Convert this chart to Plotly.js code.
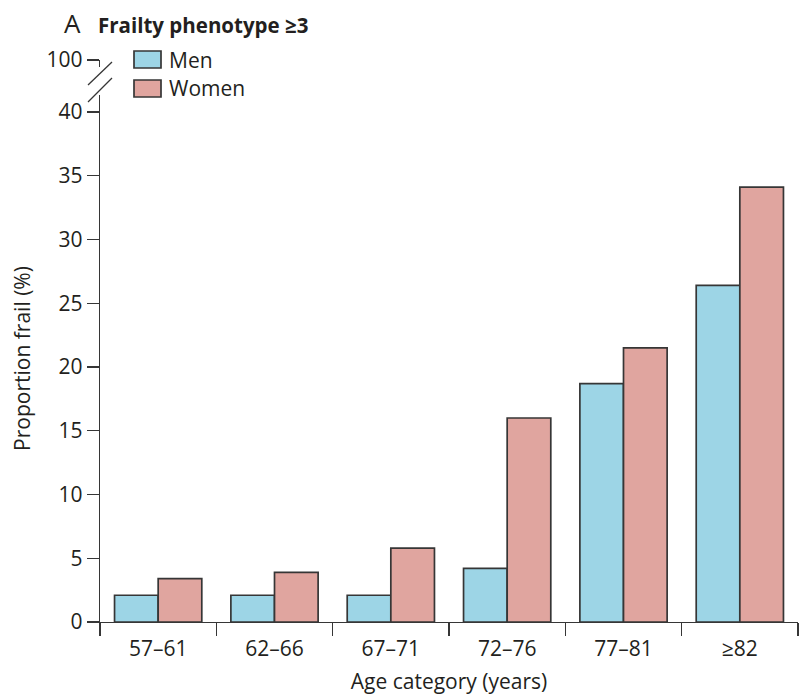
<!DOCTYPE html>
<html>
<head>
<meta charset="utf-8">
<script src="https://cdn.plot.ly/plotly-3.0.1.min.js"></script>
<style>html,body{margin:0;padding:0;background:#fff;}#chart{width:800px;height:699px;}</style>
</head>
<body>
<div id="chart"></div>
<script>
const categories = ["57–61", "62–66", "67–71", "72–76", "77–81", "≥82"];
const menValues = [2.1, 2.1, 2.1, 4.2, 18.7, 26.4];
const womenValues = [3.4, 3.9, 5.8, 16.0, 21.5, 34.1];
const seriesNames = ["Men", "Women"];
const seriesColors = ["#9dd5e6", "#e0a59f"];
const yTickVals = [0, 5, 10, 15, 20, 25, 30, 35, 40];
const breakTickVals = [100];

const W = 800, H = 699;
const mL = 100, mR = 2, mT = 60, mB = 77;
const pw = W - mL - mR, ph = H - mT - mB;
const px2x = p => (p - mL) / pw;
const px2y = p => (H - mB - p) / ph;

const font = "Open Sans, sans-serif";
const txt = "#231f20";
const edge = "#363636";
const fs = 21;

const traces = [
  {type: "bar", name: seriesNames[0], x: categories, y: menValues, showlegend: false,
   marker: {color: seriesColors[0], line: {color: edge, width: 1.7}}},
  {type: "bar", name: seriesNames[1], x: categories, y: womenValues, showlegend: false,
   marker: {color: seriesColors[1], line: {color: edge, width: 1.7}}},
  {type: "scatter", x: [categories[0]], y: [breakTickVals[0]], yaxis: "y2", mode: "markers",
   marker: {opacity: 0}, showlegend: false, hoverinfo: "skip"}
];

const legendBoxes = [{y0: 51, y1: 68}, {y0: 80, y1: 97}];
const shapes = [
  {type: "line", xref: "paper", yref: "paper", x0: px2x(88), x1: px2x(112), y0: px2y(85), y1: px2y(62),
   line: {color: edge, width: 1.3}},
  {type: "line", xref: "paper", yref: "paper", x0: px2x(88), x1: px2x(112), y0: px2y(102), y1: px2y(78),
   line: {color: edge, width: 1.3}}
];
const annotations = [
  {xref: "paper", yref: "paper", x: px2x(62), y: px2y(23), xanchor: "left", yanchor: "middle",
   text: "A", showarrow: false, font: {size: 26, color: txt, family: font}},
  {xref: "paper", yref: "paper", x: px2x(96), y: px2y(25), xanchor: "left", yanchor: "middle",
   text: "<b>Frailty phenotype ≥3</b>", showarrow: false, font: {size: 20.5, color: txt, family: font}}
];
seriesNames.forEach((n, i) => {
  const b = legendBoxes[i];
  shapes.push({type: "rect", xref: "paper", yref: "paper", x0: px2x(134), x1: px2x(161),
               y0: px2y(b.y1), y1: px2y(b.y0), fillcolor: seriesColors[i], line: {color: edge, width: 1.7}});
  annotations.push({xref: "paper", yref: "paper", x: px2x(167), y: px2y((b.y0 + b.y1) / 2),
                    xanchor: "left", yanchor: "middle", text: n, showarrow: false,
                    font: {size: fs, color: txt, family: font}});
});

const axisCommon = {showline: true, linecolor: edge, linewidth: 1.3, ticks: "outside", tickwidth: 1.3,
                    tickcolor: edge, showgrid: false, zeroline: false, tickfont: {size: fs}};

const layout = {
  width: W, height: H,
  margin: {l: mL, r: mR, t: mT, b: mB},
  paper_bgcolor: "#fff", plot_bgcolor: "#fff",
  font: {family: font, color: txt, size: fs},
  barmode: "group", bargap: 0.25, bargroupgap: 0,
  showlegend: false,
  xaxis: Object.assign({}, axisCommon, {type: "category", range: [-0.5, 5.5], tickson: "boundaries", ticklen: 13,
          ticklabelstandoff: 7,
          title: {text: "Age category (years)", font: {size: fs}, standoff: 13}}),
  yaxis: Object.assign({}, axisCommon, {domain: [0, px2y(95)], range: [0, (622 - 95) / 12.75], tickvals: yTickVals,
          ticklen: 12, title: {text: "Proportion frail (%)", font: {size: fs}, standoff: 22}}),
  yaxis2: Object.assign({}, axisCommon, {domain: [px2y(67), 1], range: [100 - (67 - 60) / 12.75, 100],
          tickvals: breakTickVals, ticklen: 12, anchor: "x"}),
  shapes: shapes,
  annotations: annotations
};

Plotly.newPlot("chart", traces, layout, {displayModeBar: false, staticPlot: true});
</script>
</body>
</html>
